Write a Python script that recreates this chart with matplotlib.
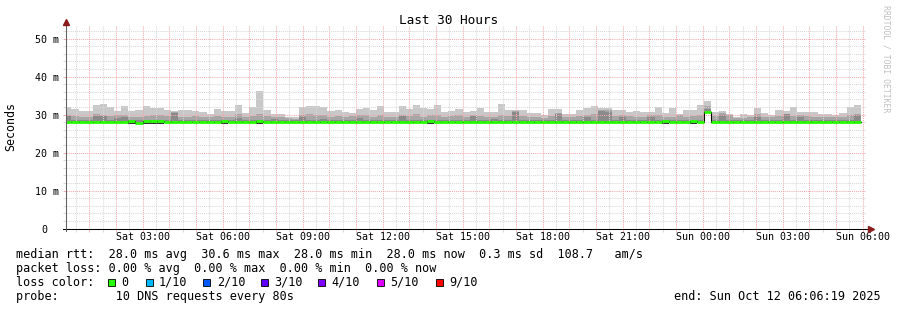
"""Smokeping latency graph, last 30 hours, redrawn with matplotlib."""
import matplotlib
matplotlib.use("Agg")
import matplotlib.pyplot as plt
import matplotlib.transforms as mtransforms
import numpy as np
from matplotlib.patches import Rectangle

W, H, DPI = 897, 310, 100
MONO = ["DejaVu Sans Mono"]

# ---- data (ms, one value per 16-min bin) ------------------------------------
STEP_H = 16 / 60
FIRST_BIN_H = 0.06          # hours after Sat 00:00
T_LEFT, T_RIGHT = 0.1053, 30.1053

max_ms = [
    31.9, 31.5, 31.0, 30.9, 32.5, 32.8, 32.0, 30.9, 32.2, 31.0, 31.2, 32.2, 31.8, 31.8,
    31.2, 31.0, 31.2, 31.2, 31.0, 30.8, 30.1, 31.4, 31.0, 30.9, 32.5, 30.5, 31.9, 36.2,
    31.2, 30.3, 30.1, 29.5, 29.3, 32.0, 32.2, 32.2, 31.9, 31.0, 31.2, 30.7, 30.5, 31.5,
    31.7, 31.2, 32.2, 30.7, 30.7, 32.2, 31.5, 32.5, 31.7, 31.5, 32.5, 30.7, 31.0, 31.5,
    30.7, 30.9, 31.7, 30.7, 30.7, 32.8, 31.2, 31.2, 31.2, 30.5, 30.5, 29.9, 31.4, 31.4,
    30.3, 30.3, 31.2, 31.7, 32.2, 31.7, 31.7, 31.2, 31.2, 30.7, 30.9, 30.7, 30.7, 31.9,
    30.4, 31.7, 30.3, 31.2, 31.2, 32.5, 33.6, 30.6, 31.0, 30.3, 29.4, 30.3, 29.9, 31.7,
    30.5, 29.9, 31.2, 31.0, 31.9, 30.7, 30.6, 30.6, 30.3, 30.3, 29.9, 30.5, 31.9, 32.5,
]
mid_ms = [
    29.9, 29.6, 29.4, 29.5, 30.1, 30.0, 29.6, 29.8, 29.9, 29.5, 29.4, 29.7, 30.0, 29.8,
    29.6, 30.7, 29.5, 29.5, 29.6, 29.4, 29.3, 29.6, 29.5, 29.4, 30.2, 29.5, 29.6, 30.1,
    29.7, 29.4, 29.5, 29.0, 28.9, 30.0, 30.1, 30.0, 29.8, 29.5, 29.7, 29.4, 29.6, 30.0,
    29.8, 29.5, 29.8, 29.4, 29.5, 30.0, 29.6, 30.1, 29.5, 29.9, 29.9, 29.4, 29.6, 29.8,
    29.5, 30.0, 29.6, 29.4, 29.5, 30.0, 29.6, 30.9, 29.6, 29.4, 29.3, 29.2, 29.7, 30.5,
    29.5, 29.4, 29.6, 29.9, 30.1, 31.3, 31.2, 29.7, 30.0, 29.6, 29.4, 29.5, 29.8, 30.0,
    29.5, 29.4, 29.8, 29.5, 29.7, 30.0, 32.3, 29.6, 30.4, 29.8, 29.0, 29.2, 29.4, 30.2,
    29.5, 29.3, 29.7, 30.3, 29.6, 30.0, 29.6, 29.5, 29.4, 29.3, 29.4, 29.5, 29.9, 30.2,
]
dark_ms = [
    29.6, 28.6, 28.6, 28.6, 29.7, 29.7, 28.6, 29.2, 29.3, 28.6, 28.6, 28.6, 28.6, 28.6,
    28.6, 30.5, 28.6, 28.6, 28.6, 28.6, 28.6, 28.6, 28.6, 28.6, 29.2, 28.6, 28.6, 28.6,
    28.6, 28.9, 28.6, 28.6, 28.6, 29.4, 28.6, 28.6, 28.9, 28.6, 28.6, 28.6, 28.6, 29.2,
    28.6, 28.6, 28.6, 28.6, 28.6, 29.7, 28.6, 28.6, 28.6, 28.6, 28.6, 28.6, 28.6, 28.6,
    28.6, 29.7, 28.6, 28.6, 28.9, 28.6, 28.6, 30.6, 28.6, 28.6, 28.6, 28.6, 28.6, 30.2,
    28.6, 28.6, 28.6, 29.5, 28.6, 31.0, 30.8, 28.6, 29.4, 28.6, 28.6, 28.6, 29.3, 28.6,
    28.6, 28.6, 28.6, 28.6, 28.6, 28.6, 31.6, 28.6, 29.8, 28.6, 28.6, 28.6, 28.6, 29.4,
    28.6, 28.6, 28.6, 30.1, 28.6, 29.3, 28.6, 28.6, 28.6, 28.6, 28.6, 28.6, 28.6, 29.9,
]
low_ms = [
    27.7, 27.7, 27.7, 27.7, 27.7, 27.7, 27.7, 27.7, 27.7, 27.55, 27.7, 27.55, 27.55, 27.55,
    27.7, 27.7, 27.7, 27.7, 27.7, 27.7, 27.7, 27.7, 27.55, 27.7, 27.7, 27.7, 27.7, 27.55,
    27.7, 27.7, 27.7, 27.7, 27.7, 27.7, 27.7, 27.7, 27.7, 27.7, 27.7, 27.7, 27.7, 27.7,
    27.7, 27.7, 27.7, 27.7, 27.7, 27.7, 27.7, 27.7, 27.7, 27.55, 27.7, 27.7, 27.7, 27.7,
    27.7, 27.7, 27.7, 27.7, 27.7, 27.7, 27.7, 27.7, 27.7, 27.7, 27.7, 27.7, 27.7, 27.7,
    27.7, 27.7, 27.7, 27.7, 27.7, 27.7, 27.7, 27.7, 27.7, 27.7, 27.7, 27.7, 27.7, 27.7,
    27.55, 27.7, 27.7, 27.7, 27.55, 27.7, 30.7, 27.7, 27.7, 27.7, 27.7, 27.7, 27.7, 27.7,
    27.7, 27.7, 27.7, 27.7, 27.7, 27.7, 27.7, 27.7, 27.7, 27.7, 27.7, 27.7, 27.7, 27.7,
]
median_ms = [
    28.0, 28.0, 28.0, 28.0, 28.0, 28.0, 28.0, 28.0, 28.0, 28.3, 27.85, 28.3, 28.3, 28.3,
    28.0, 28.0, 28.0, 28.0, 28.0, 28.0, 28.0, 28.0, 28.3, 28.0, 28.0, 28.0, 28.0, 28.3,
    28.0, 28.0, 28.0, 28.0, 28.0, 28.0, 28.0, 28.0, 28.0, 28.0, 28.0, 28.0, 28.0, 28.0,
    28.0, 28.0, 28.0, 28.0, 28.0, 28.0, 28.0, 28.0, 28.0, 28.3, 28.0, 28.0, 28.0, 28.0,
    28.0, 28.0, 28.0, 28.0, 28.0, 28.0, 28.0, 28.0, 28.0, 28.0, 28.0, 28.0, 28.0, 28.0,
    28.0, 28.0, 28.0, 28.0, 28.0, 28.0, 28.0, 28.0, 28.0, 28.0, 28.0, 28.0, 28.0, 28.0,
    28.3, 28.0, 28.0, 28.0, 28.3, 28.0, 30.8, 28.0, 28.0, 28.0, 28.0, 28.0, 28.0, 28.0,
    28.0, 28.0, 28.0, 28.0, 28.0, 28.0, 28.0, 28.0, 28.0, 28.0, 28.0, 28.0, 28.0, 28.0,
]

x_label_hours = [3, 6, 9, 12, 15, 18, 21, 24, 27, 30]
x_labels = ["Sat 03:00", "Sat 06:00", "Sat 09:00", "Sat 12:00", "Sat 15:00",
            "Sat 18:00", "Sat 21:00", "Sun 00:00", "Sun 03:00", "Sun 06:00"]
y_ticks = [0, 10, 20, 30, 40, 50]
y_labels = ["0", "10 m", "20 m", "30 m", "40 m", "50 m"]

legend_rows = [
    "median rtt:  28.0 ms avg  30.6 ms max  28.0 ms min  28.0 ms now  0.3 ms sd  108.7   am/s",
    "packet loss: 0.00 % avg  0.00 % max  0.00 % min  0.00 % now",
    "loss color:",
    "probe:        10 DNS requests every 80s",
]
loss_labels = ["0", "1/10", "2/10", "3/10", "4/10", "5/10", "9/10"]
loss_colors = ["#26ff00", "#00b8ff", "#0059ff", "#5e00ff", "#7e00ff", "#dd00ff", "#ff0000"]
end_text = "end: Sun Oct 12 06:06:19 2025"

# ---- styling ---------------------------------------------------------------
GRID = "#d8d8d8"
MGRID = "#f2aaaa"
ARROW = "#8c1c1c"
SMOKE = ["#c8c8c8", "#a6a6a6", "#8a8a8a", "#303030"]
GREEN = "#26ff00"


def fx(px):
    return px / W


def fy(py):
    return 1 - py / H


def main():
    fig = plt.figure(figsize=(W / DPI, H / DPI), dpi=DPI, facecolor="white")
    ax = fig.add_axes([fx(65.5), fy(228.6), 800 / W, 203.6 / H])
    ax.set_xlim(T_LEFT, T_RIGHT)
    ax.set_ylim(0, 53.6)
    for s in ax.spines.values():
        s.set_visible(False)

    n = len(max_ms)
    left = FIRST_BIN_H + np.arange(n) * STEP_H

    # smoke: outer layer first, darker layers on top
    for top, col in zip([max_ms, mid_ms, dark_ms, median_ms], SMOKE):
        h = np.array(top) - np.array(low_ms)
        ax.bar(left, h, bottom=low_ms, width=STEP_H, align="edge",
               color=col, linewidth=0, zorder=1)

    # median: black step for transitions, green loss-coloured segments on top
    ax.step(np.append(left, left[-1] + STEP_H), median_ms + [median_ms[-1]],
            where="post", color="black", lw=0.8, zorder=3)
    ax.hlines(median_ms, left, left + STEP_H, colors=GREEN, lw=2.0,
              zorder=4, capstyle="butt")

    # grid: hourly major (red), half-hour minor (grey), on top of the smoke
    hours = np.arange(1, 31)
    hour_labels = []
    for h in hours:
        hour_labels.append(x_labels[x_label_hours.index(h)] if h in x_label_hours else "")
    ax.set_xticks(hours, hour_labels)
    ax.set_xticks(np.arange(0.5, 30.2, 1.0), minor=True)
    ax.set_yticks(y_ticks, y_labels)
    ax.set_yticks(np.arange(2, 53, 2), minor=True)
    ax.set_axisbelow(False)
    ax.grid(which="major", color=MGRID, linestyle=(0, (1, 1)), linewidth=0.75)
    ax.grid(which="minor", color=GRID, linestyle=(0, (1, 1)), linewidth=0.75)
    ax.tick_params(which="major", length=2, width=0.7, color=MGRID)
    ax.tick_params(which="minor", length=2, width=0.7, color=GRID)
    ax.tick_params(axis="x", which="major", pad=0.6)
    ax.tick_params(axis="y", which="major", pad=2.5)
    for lab in ax.get_xticklabels() + ax.get_yticklabels():
        lab.set_family(MONO)
        lab.set_fontsize(7.2)
    # rrdtool leaves room for the unit after the zero label
    zero = ax.get_yticklabels()[0]
    zero.set_transform(zero.get_transform() + mtransforms.ScaledTranslation(
        -11.5 / DPI, 0, fig.dpi_scale_trans))

    # axes with arrows
    ax.plot([-0.003, 1.006], [0, 0], transform=ax.transAxes, color="black",
            lw=0.75, clip_on=False, zorder=5)
    ax.plot([0, 0], [-0.012, 1.0], transform=ax.transAxes, color="#606060",
            lw=0.75, clip_on=False, zorder=5)
    ax.plot([1.0069], [0], transform=ax.transAxes, marker=">", ms=4.2,
            color=ARROW, clip_on=False, zorder=6)
    ax.plot([0], [1.017], transform=ax.transAxes, marker="^", ms=4.2,
            color=ARROW, clip_on=False, zorder=6)

    # texts
    fig.text(0.5, fy(24.2), "Last 30 Hours", ha="center", va="baseline",
             fontsize=9.2, family=MONO)
    fig.text(fx(11), fy(126.8), "Seconds", rotation=90, ha="center",
             va="center", fontsize=8.4, family=MONO)
    fig.text(fx(886), fy(5), "RRDTOOL / TOBI OETIKER", rotation=270,
             ha="center", va="top", fontsize=5.9, color="#c0c0c0", family=MONO)

    baselines = [257.7, 271.8, 285.9, 300.0]
    for row, base in zip(legend_rows, baselines):
        fig.text(fx(16), fy(base), row, ha="left", va="baseline",
                 fontsize=8.45, family=MONO)
    fig.text(fx(881), fy(baselines[3]), end_text, ha="right", va="baseline",
             fontsize=8.45, family=MONO)

    box_x = [108.3, 145.7, 203.3, 260.7, 318.3, 376.7, 436.0]
    for bx, lab, col in zip(box_x, loss_labels, loss_colors):
        fig.patches.append(Rectangle((fx(bx), fy(285.7)), 7 / W, 7 / H,
                                     transform=fig.transFigure, facecolor=col,
                                     edgecolor="black", linewidth=0.6))
        fig.text(fx(bx + 13.4), fy(baselines[2]), lab, ha="left", va="baseline",
                 fontsize=8.45, family=MONO)

    fig.savefig("out.png", dpi=DPI)


if __name__ == "__main__":
    main()
